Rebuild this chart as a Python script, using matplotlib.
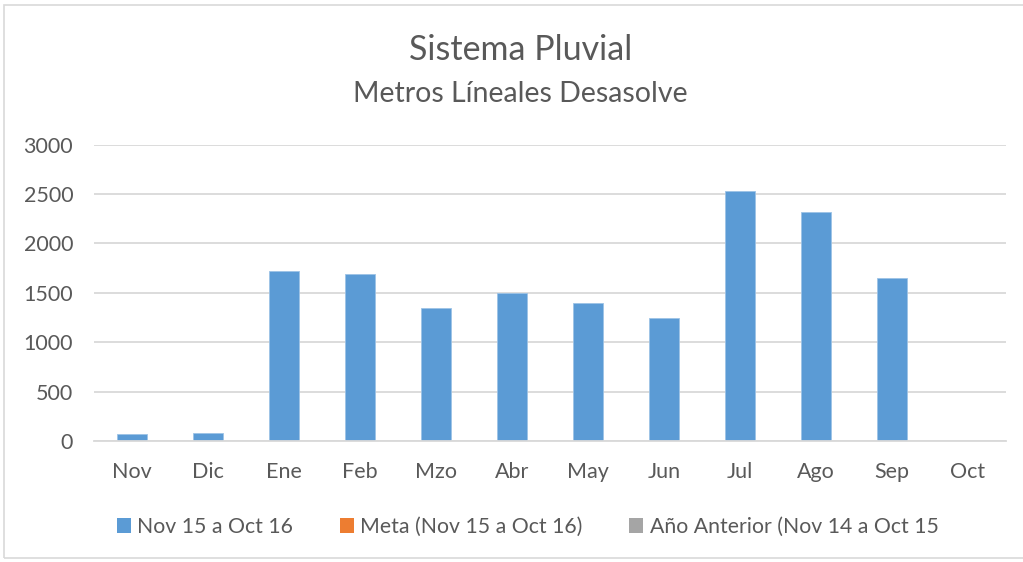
import matplotlib.pyplot as plt
from matplotlib.patches import Patch, Rectangle

# data
months = ['Nov', 'Dic', 'Ene', 'Feb', 'Mzo', 'Abr', 'May', 'Jun', 'Jul', 'Ago', 'Sep', 'Oct']
actual = [71, 85, 1718, 1695, 1345, 1495, 1402, 1242, 2535, 2322, 1648, 0]
series_names = ['Nov 15 a Oct 16', 'Meta (Nov 15 a Oct 16)', 'Año Anterior (Nov 14 a Oct 15']
series_colors = ['#5B9BD5', '#ED7D31', '#A5A5A5']
yticks = [0, 500, 1000, 1500, 2000, 2500, 3000]

plt.rcParams['font.family'] = ['Lato', 'DejaVu Sans']
txt = '#595959'

fig = plt.figure(figsize=(10.23, 5.62), dpi=100)
ax = fig.add_axes([94/1023, 1-441/562, 912/1023, 296.3/562])

x = range(len(months))
ax.bar(x, actual, width=0.4, color=series_colors[0], edgecolor='#9DC3E6', linewidth=0.6)

ax.set_xlim(-0.5, len(months) - 0.5)
ax.set_ylim(0, 3000)
ax.set_yticks(yticks)
ax.set_xticks(list(x))
ax.set_xticklabels(months)
ax.tick_params(axis='both', length=0, labelsize=15.5, colors=txt)
ax.tick_params(axis='x', pad=15)
ax.tick_params(axis='y', pad=15)
ax.yaxis.grid(True, color='#D9D9D9', linewidth=1.3)
ax.set_axisbelow(True)
for s in ['top', 'right', 'left']:
    ax.spines[s].set_visible(False)
ax.spines['bottom'].set_color('#D9D9D9')
ax.spines['bottom'].set_linewidth(1.3)

fig.text(0.509, 1-50/562, 'Sistema Pluvial', ha='center', va='center', fontsize=24.5, color=txt)
fig.text(0.509, 1-94/562, 'Metros Líneales Desasolve', ha='center', va='center', fontsize=20.5, color=txt)

handles = [Patch(facecolor=c, edgecolor='none') for c in series_colors]
fig.legend(handles, series_names, loc='center', bbox_to_anchor=(0.516, 1-527/562), ncol=3,
           frameon=False, fontsize=15.3, labelcolor=txt, handlelength=0.65, handleheight=0.65,
           handletextpad=0.3, columnspacing=2.2)

# chart border
fig.patches.append(Rectangle((4/1023, 1-558/562), 1030/1023, 553/562, transform=fig.transFigure,
                             fill=False, edgecolor='#D9D9D9', linewidth=1.2))

plt.savefig('out.png', dpi=100)
